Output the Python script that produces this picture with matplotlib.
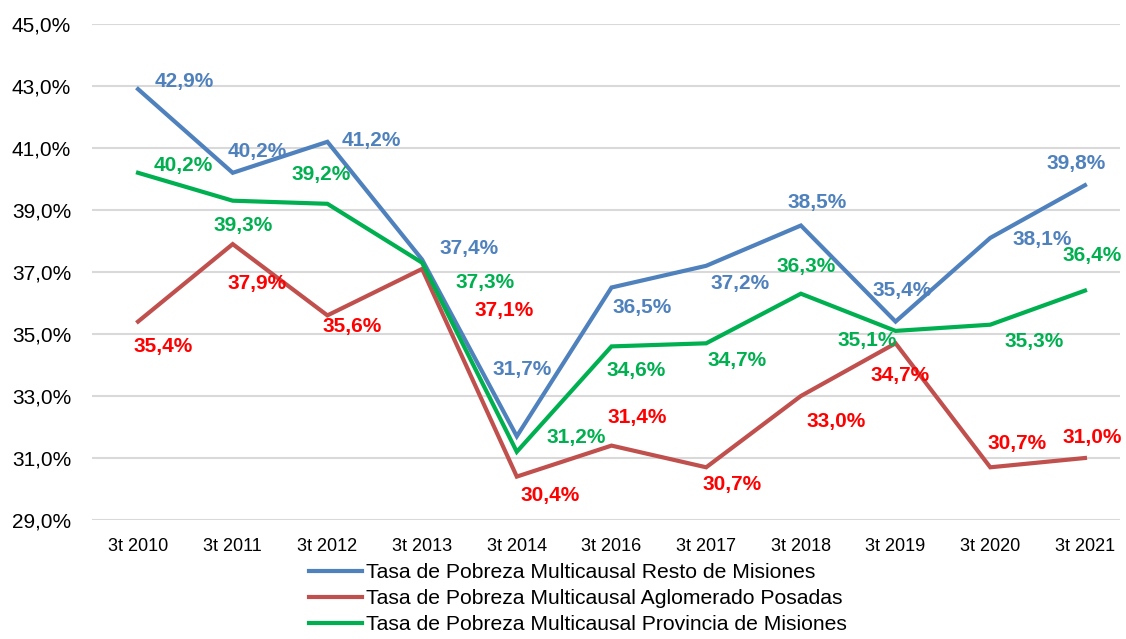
import matplotlib
matplotlib.use("Agg")
import matplotlib.pyplot as plt

periodos = ['3t 2010', '3t 2011', '3t 2012', '3t 2013', '3t 2014', '3t 2016',
            '3t 2017', '3t 2018', '3t 2019', '3t 2020', '3t 2021']
resto = [42.9, 40.2, 41.2, 37.4, 31.7, 36.5, 37.2, 38.5, 35.4, 38.1, 39.8]
posadas = [35.4, 37.9, 35.6, 37.1, 30.4, 31.4, 30.7, 33.0, 34.7, 30.7, 31.0]
provincia = [40.2, 39.3, 39.2, 37.3, 31.2, 34.6, 34.7, 36.3, 35.1, 35.3, 36.4]
nombres = ['Tasa de Pobreza Multicausal Resto de Misiones',
           'Tasa de Pobreza Multicausal Aglomerado Posadas',
           'Tasa de Pobreza Multicausal Provincia de Misiones']
y_ticks = [29, 31, 33, 35, 37, 39, 41, 43, 45]

# desplazamiento de las etiquetas en pixeles (dx, dy hacia arriba)
off_resto = [(46, 8), (25, 21), (44, 1), (47, 11), (5, 67), (31, -20),
             (34, -18), (16, 23), (7, 31), (52, -2), (-9, 22)]
off_posadas = [(25, -25), (24, -39), (25, -11), (82, -42), (33, -19), (26, 28),
               (26, -17), (35, -25), (4, -32), (27, 24), (7, 20)]
off_provincia = [(45, 7), (10, -25), (-6, 29), (63, -20), (59, 14), (25, -24),
                 (31, -17), (5, 27), (-28, -10), (44, -17), (7, 35)]

plt.rcParams['font.family'] = ['Liberation Sans', 'DejaVu Sans']

fig = plt.figure(figsize=(11.26, 6.39), dpi=100)
ax = fig.add_axes([92 / 1126, 1 - 520 / 639, (1120 - 92) / 1126, (520 - 24) / 639])

series = [
    (resto, '#4F81BD', '#4F81BD', off_resto),
    (posadas, '#C0504D', '#FF0000', off_posadas),
    (provincia, '#00B050', '#00B050', off_provincia),
]
x = list(range(len(periodos)))
for (vals, col_linea, col_txt, offs), nombre in zip(series, nombres):
    ax.plot(x, vals, color=col_linea, lw=3, label=nombre, solid_joinstyle='miter', zorder=3)
    for xi, v, (dx, dy) in zip(x, vals, offs):
        ax.annotate(f'{v:.1f}%'.replace('.', ','), (xi, v), xytext=(dx, dy),
                    textcoords='offset pixels', ha='center', va='center',
                    color=col_txt, fontsize=15, fontweight='bold', zorder=4)

ax.set_xlim(-0.486, 10.37)
ax.set_ylim(29, 45)
ax.set_yticks(y_ticks)
ax.set_yticklabels([f'{t:.1f}%'.replace('.', ',') for t in y_ticks], fontsize=15)
ax.set_xticks(x)
ax.set_xticklabels(periodos, fontsize=13)
ax.tick_params(length=0, pad=15, axis='y')
ax.tick_params(length=0, pad=13, axis='x')
ax.grid(axis='y', color='#D9D9D9', lw=1.5)
ax.set_axisbelow(True)
for s in ax.spines.values():
    s.set_visible(False)

fig.legend(loc='upper left', bbox_to_anchor=(309 / 1126, 1 - 563 / 639), frameon=False,
           prop={'size': 15.2}, handlelength=2.5, handletextpad=0.2,
           labelspacing=0.34, borderpad=0, borderaxespad=0)

fig.savefig('out.png', dpi=100)
